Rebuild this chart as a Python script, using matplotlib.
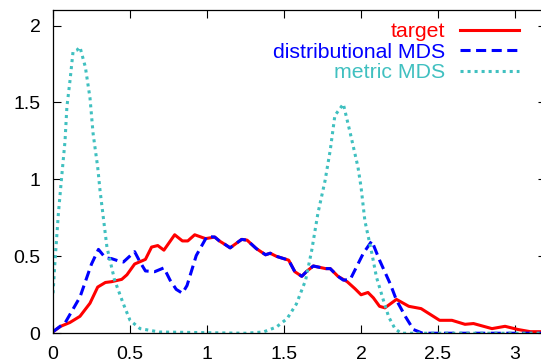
import matplotlib.pyplot as plt

target_x = [0, 0.05, 0.11, 0.175, 0.24, 0.29, 0.34, 0.38, 0.446, 0.48, 0.53, 0.6, 0.64, 0.68,
            0.72, 0.79, 0.84, 0.875, 0.92, 0.99, 1.05, 1.08, 1.12, 1.15, 1.225, 1.26, 1.32,
            1.38, 1.41, 1.45, 1.53, 1.57, 1.615, 1.65, 1.69, 1.77, 1.80, 1.85, 1.91, 1.96,
            2.00, 2.045, 2.08, 2.12, 2.155, 2.23, 2.31, 2.39, 2.51, 2.59, 2.675, 2.73, 2.85,
            2.935, 3.02, 3.10, 3.2]
target_y = [0.01, 0.045, 0.07, 0.11, 0.195, 0.30, 0.33, 0.335, 0.35, 0.38, 0.45, 0.48, 0.56,
            0.57, 0.54, 0.64, 0.60, 0.60, 0.64, 0.615, 0.625, 0.60, 0.575, 0.555, 0.61, 0.605,
            0.55, 0.51, 0.52, 0.50, 0.475, 0.40, 0.37, 0.405, 0.437, 0.42, 0.42, 0.37, 0.335,
            0.29, 0.25, 0.265, 0.23, 0.175, 0.165, 0.22, 0.175, 0.16, 0.084, 0.084, 0.058,
            0.063, 0.03, 0.045, 0.024, 0.01, 0.01]

dmds_x = [0, 0.08, 0.175, 0.25, 0.295, 0.34, 0.38, 0.425, 0.457, 0.53, 0.565, 0.60, 0.66,
          0.72, 0.76, 0.80, 0.84, 0.87, 0.93, 1.0, 1.05, 1.08, 1.12, 1.15, 1.225, 1.26, 1.32,
          1.38, 1.41, 1.45, 1.53, 1.57, 1.615, 1.65, 1.69, 1.77, 1.80, 1.85, 1.885, 1.93,
          2.015, 2.07, 2.12, 2.19, 2.23, 2.29, 2.34, 2.40, 3.2]
dmds_y = [0.01, 0.07, 0.235, 0.45, 0.545, 0.49, 0.485, 0.47, 0.463, 0.53, 0.463, 0.405, 0.40,
          0.425, 0.345, 0.285, 0.26, 0.31, 0.505, 0.63, 0.625, 0.60, 0.575, 0.555, 0.61, 0.605,
          0.55, 0.51, 0.52, 0.50, 0.475, 0.40, 0.37, 0.405, 0.437, 0.42, 0.42, 0.37, 0.345,
          0.35, 0.52, 0.60, 0.475, 0.32, 0.215, 0.105, 0.024, 0.0, 0.0]

mmds_x = [0, 0.013, 0.035, 0.056, 0.078, 0.09, 0.11, 0.13, 0.155, 0.175, 0.21, 0.24, 0.26,
          0.29, 0.305, 0.35, 0.40, 0.457, 0.50, 0.565, 0.69, 1.25, 1.365, 1.45, 1.52, 1.58,
          1.64, 1.68, 1.72, 1.766, 1.80, 1.83, 1.885, 1.93, 1.98, 2.0, 2.025, 2.07, 2.10,
          2.145, 2.18, 2.22, 2.26, 3.2]
mmds_y = [0.26, 0.47, 0.78, 1.015, 1.25, 1.47, 1.64, 1.83, 1.84, 1.86, 1.73, 1.53, 1.30,
          1.08, 0.93, 0.56, 0.345, 0.19, 0.084, 0.03, 0.008, 0.0, 0.008, 0.04, 0.095, 0.19,
          0.345, 0.54, 0.78, 0.99, 1.19, 1.415, 1.49, 1.30, 1.08, 0.95, 0.73, 0.52, 0.365,
          0.215, 0.105, 0.03, 0.0, 0.0]

xticks = [0, 0.5, 1, 1.5, 2, 2.5, 3]
yticks = [0, 0.5, 1, 1.5, 2]

plt.rcParams['font.family'] = ['Liberation Sans', 'DejaVu Sans']

fig = plt.figure(figsize=(5.41, 3.63), dpi=100)
ax = fig.add_axes([0.098, 0.082, 0.911, 0.89])

ax.plot(target_x, target_y, color='#ff0000', lw=2.2, label='target')
ax.plot(dmds_x, dmds_y, color='#0000ff', lw=2.2, dashes=(3.3, 1.8), label='distributional MDS')
ax.plot(mmds_x, mmds_y, color='#40c0c0', lw=2.2, dashes=(1, 1.3), label='metric MDS')

ax.set_xlim(0, 3.2)
ax.set_ylim(0, 2.1)
ax.set_xticks(xticks)
ax.set_xticklabels(['0', '0.5', '1', '1.5', '2', '2.5', '3'])
ax.set_yticks(yticks)
ax.set_yticklabels(['0', '0.5', '1', '1.5', '2'])
ax.tick_params(direction='in', length=5.5, width=0.8, top=True, right=True,
               labelsize=14, pad=9)
for s in ax.spines.values():
    s.set_linewidth(0.9)

ax.legend(loc='upper right', bbox_to_anchor=(0.946, 0.962), frameon=False,
          markerfirst=False, labelcolor='linecolor', fontsize=15.3,
          handlelength=2.8, handletextpad=0.7, labelspacing=0.07,
          borderpad=0, borderaxespad=0)

fig.savefig('out.png', dpi=100)
